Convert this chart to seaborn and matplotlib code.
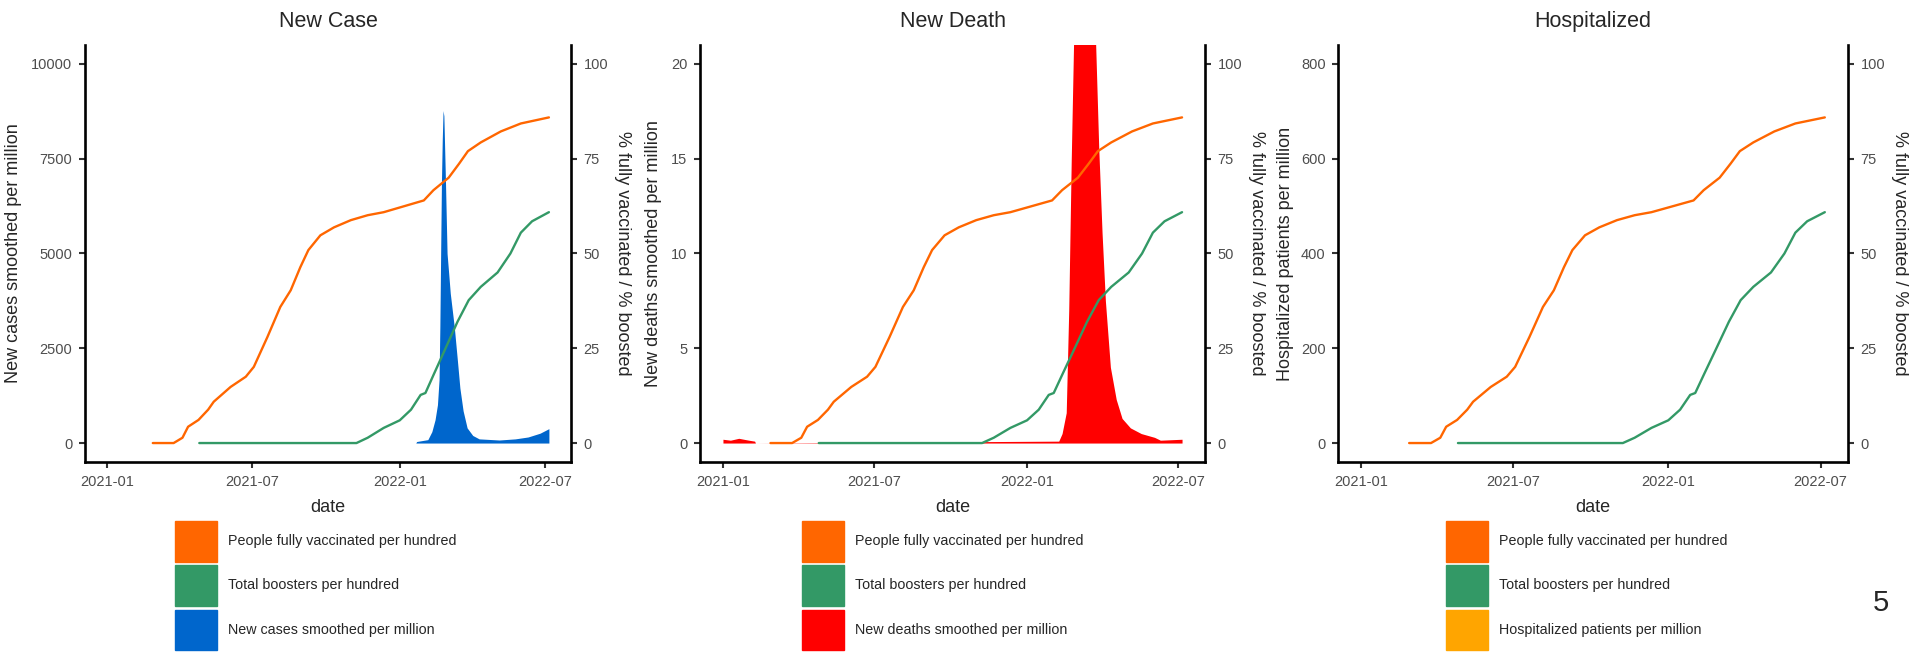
import matplotlib
matplotlib.use("Agg")
import matplotlib.pyplot as plt
import matplotlib.dates as mdates
from matplotlib.patches import Patch
import pandas as pd
import seaborn as sns

# ---- data ----
vacc_dates = ["2021-02-27", "2021-03-25", "2021-04-05", "2021-04-12", "2021-04-25",
              "2021-05-07", "2021-05-14", "2021-06-04", "2021-06-23", "2021-07-03",
              "2021-07-20", "2021-08-05", "2021-08-18", "2021-08-30", "2021-09-09",
              "2021-09-24", "2021-10-11", "2021-11-01", "2021-11-22", "2021-12-12",
              "2022-01-02", "2022-01-31", "2022-02-12", "2022-03-03", "2022-03-16",
              "2022-03-27", "2022-04-12", "2022-05-07", "2022-06-01", "2022-07-06"]
fully_vaccinated = [0, 0, 1.4, 4.3, 6.1,
                    8.8, 10.9, 14.8, 17.5, 20.1,
                    28.0, 35.9, 40.3, 46.4, 50.9,
                    54.8, 56.9, 58.8, 60.1, 60.9,
                    62.2, 64.0, 66.7, 70.0, 73.7,
                    77.0, 79.3, 82.2, 84.3, 85.9]

booster_dates = ["2021-04-26", "2021-11-08", "2021-11-22", "2021-12-12", "2022-01-01",
                 "2022-01-15", "2022-01-27", "2022-02-02", "2022-02-13", "2022-02-25",
                 "2022-03-14", "2022-03-28", "2022-04-12", "2022-05-03", "2022-05-19",
                 "2022-06-01", "2022-06-15", "2022-07-06"]
boosters = [0, 0, 1.4, 4.0, 6.0,
            8.8, 12.7, 13.2, 18.4, 24.0,
            32.0, 37.7, 41.2, 45.0, 50.0,
            55.5, 58.5, 60.9]

case_dates = ["2022-01-21", "2022-01-22", "2022-02-05", "2022-02-10", "2022-02-14",
              "2022-02-17", "2022-02-19", "2022-02-20", "2022-02-21", "2022-02-22",
              "2022-02-23", "2022-02-24", "2022-02-25", "2022-02-27", "2022-03-01",
              "2022-03-03", "2022-03-05", "2022-03-10", "2022-03-14", "2022-03-17",
              "2022-03-21", "2022-03-26", "2022-04-02", "2022-04-10", "2022-05-05",
              "2022-05-25", "2022-06-10", "2022-06-25", "2022-07-06"]
new_cases = [0, 40, 90, 300, 613,
             1010, 1670, 3050, 5000, 6900,
             8000, 8770, 8630, 6900, 5000,
             4480, 3950, 3060, 2150, 1450,
             850, 400, 200, 110, 80,
             110, 160, 260, 380]

death_dates = ["2021-01-01", "2021-01-10", "2021-01-20", "2021-02-01", "2021-02-08",
               "2021-02-09", "2022-02-08", "2022-02-12", "2022-02-17", "2022-02-20",
               "2022-02-23", "2022-02-26", "2022-03-04", "2022-03-12", "2022-03-20",
               "2022-03-24", "2022-03-28", "2022-04-01", "2022-04-05", "2022-04-11",
               "2022-04-18", "2022-04-25", "2022-05-05", "2022-05-18", "2022-06-03",
               "2022-06-10", "2022-07-06"]
new_deaths = [0.2, 0.15, 0.25, 0.15, 0.1,
              0, 0.1, 0.5, 1.6, 7.0,
              14.9, 21.5, 25.0, 27.0, 24.0,
              21.5, 15.6, 11.1, 7.5, 4.0,
              2.3, 1.3, 0.8, 0.5, 0.3,
              0.15, 0.2]

# hospitalisation series has no values in the source
hosp_dates = []
hospitalized = []

titles = ["New Case", "New Death", "Hospitalized"]
left_labels = ["New cases smoothed per million", "New deaths smoothed per million",
               "Hospitalized patients per million"]
left_max = [10000, 20, 800]
left_steps = [2500, 5, 200]
area_labels = ["New cases smoothed per million", "New deaths smoothed per million",
               "Hospitalized patients per million"]
area_colors = ["#0066CC", "#FF0000", "#FFA500"]
vacc_label = "People fully vaccinated per hundred"
boost_label = "Total boosters per hundred"
vacc_color = "#FF6600"
boost_color = "#339966"
right_label = "% fully vaccinated / % boosted"

series = [(case_dates, new_cases), (death_dates, new_deaths), (hosp_dates, hospitalized)]

# ---- layout (pixels) ----
W, H = 1911, 655
panels_px = [(85, 571), (700, 1205), (1338, 1848)]
top_px, bottom_px = 45, 462
legend_px = [175, 802, 1446]
left_label_off = [-71, -47, -52]

sns.set_style("ticks")
plt.rcParams["font.family"] = ["Liberation Sans", "DejaVu Sans"]

fig = plt.figure(figsize=(W / 100, H / 100), dpi=100)

x_start = pd.Timestamp("2021-01-01")
x_end = pd.Timestamp("2022-07-06")
pad = (x_end - x_start) * 0.05
xticks = pd.to_datetime(["2021-01-01", "2021-07-01", "2022-01-01", "2022-07-01"])

for i in range(3):
    l, r = panels_px[i]
    w = r - l
    ax = fig.add_axes([l / W, 1 - bottom_px / H, w / W, (bottom_px - top_px) / H])
    ax2 = ax.twinx()

    d, v = series[i]
    if len(d):
        dd = pd.to_datetime(d)
        ax.fill_between(dd, 0, v, color=area_colors[i], linewidth=0)

    vd = pd.DataFrame({"date": pd.to_datetime(vacc_dates), "pct": fully_vaccinated})
    bd = pd.DataFrame({"date": pd.to_datetime(booster_dates), "pct": boosters})
    sns.lineplot(data=vd, x="date", y="pct", ax=ax2, color=vacc_color, linewidth=1.7)
    sns.lineplot(data=bd, x="date", y="pct", ax=ax2, color=boost_color, linewidth=1.7)

    m = left_max[i]
    ax.set_ylim(-0.05 * m, 1.05 * m)
    ax.set_yticks(range(0, m + 1, left_steps[i]))
    ax2.set_ylim(-5, 105)
    ax2.set_yticks([0, 25, 50, 75, 100])
    ax.set_xlim(x_start - pad, x_end + pad)
    ax.set_xticks(xticks)
    ax.xaxis.set_major_formatter(mdates.DateFormatter("%Y-%m"))

    for a in (ax, ax2):
        a.grid(False)
        a.set_facecolor("none")
        a.spines["top"].set_visible(False)
        for s in a.spines.values():
            s.set_linewidth(1.9)
            s.set_color("black")
        a.tick_params(direction="out", length=4, width=1.5, color="#333333",
                      labelcolor="#4D4D4D", labelsize=10.5, pad=5)
    ax.spines["right"].set_visible(False)
    ax2.spines["left"].set_visible(False)
    ax2.spines["bottom"].set_visible(False)

    ax.set_xlabel("date", fontsize=13, va="center")
    ax.xaxis.set_label_coords(0.5, (bottom_px - 507) / (bottom_px - top_px))
    ax.set_ylabel(left_labels[i], fontsize=13, va="center")
    ax.yaxis.set_label_coords(left_label_off[i] / w, 0.5)
    ax2.set_ylabel(right_label, fontsize=13, rotation=270, va="center")
    ax2.yaxis.set_label_coords(1 + 51 / w, 0.5)
    ax.set_title(titles[i], fontsize=15.5, pad=13)

    handles = [Patch(color=vacc_color, label=vacc_label),
               Patch(color=boost_color, label=boost_label),
               Patch(color=area_colors[i], label=area_labels[i])]
    fig.legend(handles=handles, loc="upper left",
               bbox_to_anchor=(legend_px[i] / W, 1 - 521 / H),
               frameon=False, fontsize=10.3, handlelength=2.95, handleheight=4.0,
               handletextpad=0.75, labelspacing=0.25, borderpad=0, borderaxespad=0)

fig.text(1881 / W, 1 - 603 / H, "5", fontsize=21, ha="center", va="center")

fig.savefig("out.png", dpi=100)
